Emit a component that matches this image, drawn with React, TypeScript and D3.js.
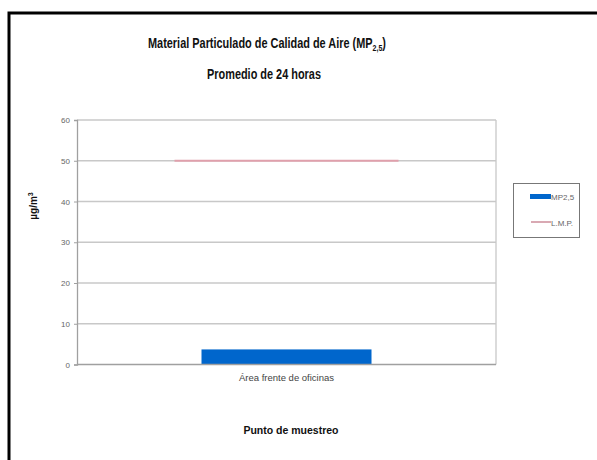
import React, { useEffect, useRef } from "react";
import * as d3 from "d3";

const categories = ["Área frente de oficinas"];
const mpValues = [3.7];
const lmpValues = [50];
const yTicks = [0, 10, 20, 30, 40, 50, 60];
const legendLabels = ["MP2,5", "L.M.P."];

const W = 597;
const H = 460;

export default function App() {
  const ref = useRef<SVGSVGElement>(null);
  useEffect(() => {
    document.body.style.margin = "0";
    const svg = d3.select(ref.current);
    svg.selectAll("*").remove();

    const left = 77, right = 496, top = 120, bottom = 364.5;
    const x = d3.scaleBand<string>().domain(categories).range([left, right]).paddingInner(0).paddingOuter(0);
    const y = d3.scaleLinear().domain([0, 60]).range([bottom, top]);

    svg.append("rect").attr("x", 0).attr("y", 0).attr("width", W).attr("height", H).attr("fill", "#fff");
    // frame
    svg.append("path").attr("d", `M9,${H} L9,13 L${W},13`).attr("fill", "none").attr("stroke", "#000").attr("stroke-width", 3);

    const font = "'Liberation Sans', Arial, sans-serif";

    // title
    const t = svg.append("text").attr("transform", "translate(267,48) scale(0.78,1)").attr("text-anchor", "middle")
      .attr("font-family", font).attr("font-weight", "bold").attr("font-size", 14).attr("fill", "#111");
    t.append("tspan").text("Material Particulado de Calidad de Aire (MP");
    t.append("tspan").attr("font-size", 9).attr("dy", 3).text("2,5");
    t.append("tspan").attr("dy", -3).text(")");
    svg.append("text").attr("transform", "translate(264,79) scale(0.78,1)").attr("text-anchor", "middle")
      .attr("font-family", font).attr("font-weight", "bold").attr("font-size", 14).attr("fill", "#111")
      .text("Promedio de 24 horas");

    // gridlines
    svg.append("g").selectAll("line").data(yTicks.filter(d => d > 0)).join("line")
      .attr("x1", left).attr("x2", right).attr("y1", d => y(d)).attr("y2", d => y(d))
      .attr("stroke", "#c8c8c8").attr("stroke-width", 1.3);
    // right border of plot
    svg.append("line").attr("x1", right).attr("x2", right).attr("y1", top).attr("y2", bottom)
      .attr("stroke", "#c8c8c8").attr("stroke-width", 1.3);

    // bars
    const bw = 170;
    svg.append("g").selectAll("rect").data(mpValues).join("rect")
      .attr("x", (d, i) => (x(categories[i]) as number) + x.bandwidth() / 2 - bw / 2)
      .attr("width", bw)
      .attr("y", d => y(d)).attr("height", d => y(0) - y(d))
      .attr("fill", "#0066cc");

    // L.M.P. line
    const lw = 224;
    svg.append("g").selectAll("line").data(lmpValues).join("line")
      .attr("x1", (d, i) => (x(categories[i]) as number) + x.bandwidth() / 2 - lw / 2)
      .attr("x2", (d, i) => (x(categories[i]) as number) + x.bandwidth() / 2 + lw / 2)
      .attr("y1", d => y(d)).attr("y2", d => y(d))
      .attr("stroke", "#e0a0ac").attr("stroke-width", 2);

    // axes
    svg.append("line").attr("x1", left).attr("x2", right).attr("y1", bottom).attr("y2", bottom)
      .attr("stroke", "#a0a0a0").attr("stroke-width", 1.3);
    const ya = svg.append("g").attr("transform", `translate(${left},0)`)
      .call(d3.axisLeft(y).tickValues(yTicks).tickSize(3).tickPadding(4));
    ya.select(".domain").attr("stroke", "#a0a0a0").attr("stroke-width", 1.3);
    ya.selectAll(".tick line").attr("stroke", "#a0a0a0");
    ya.selectAll(".tick text").attr("font-family", font).attr("font-size", 8).attr("fill", "#666");

    svg.append("g").selectAll("text").data(categories).join("text")
      .attr("x", d => (x(d) as number) + x.bandwidth() / 2).attr("y", 381)
      .attr("text-anchor", "middle").attr("font-family", font).attr("font-size", 9.5).attr("fill", "#444")
      .text(d => d);

    svg.append("text").attr("x", 291).attr("y", 434).attr("text-anchor", "middle")
      .attr("font-family", font).attr("font-weight", "bold").attr("font-size", 10.5).attr("fill", "#111")
      .text("Punto de muestreo");

    const yl = svg.append("text").attr("transform", "translate(37,206) rotate(-90)").attr("text-anchor", "middle")
      .attr("font-family", font).attr("font-weight", "bold").attr("font-size", 10).attr("fill", "#111");
    yl.append("tspan").text("µg/m");
    yl.append("tspan").attr("font-size", 7).attr("dy", -4).text("3");

    // legend
    svg.append("rect").attr("x", 513.5).attr("y", 183.5).attr("width", 66).attr("height", 54)
      .attr("fill", "#fff").attr("stroke", "#777").attr("stroke-width", 1);
    svg.append("rect").attr("x", 530).attr("y", 194).attr("width", 21).attr("height", 5).attr("fill", "#0066cc");
    svg.append("line").attr("x1", 531).attr("x2", 551).attr("y1", 222).attr("y2", 222)
      .attr("stroke", "#c07080").attr("stroke-width", 1.2);
    svg.append("g").selectAll("text").data(legendLabels).join("text")
      .attr("x", 551).attr("y", (d, i) => 199.5 + i * 26)
      .attr("font-family", font).attr("font-size", 8).attr("fill", "#666").text(d => d);
  }, []);
  return <svg ref={ref} width={W} height={H} style={{ display: "block" }} />;
}
